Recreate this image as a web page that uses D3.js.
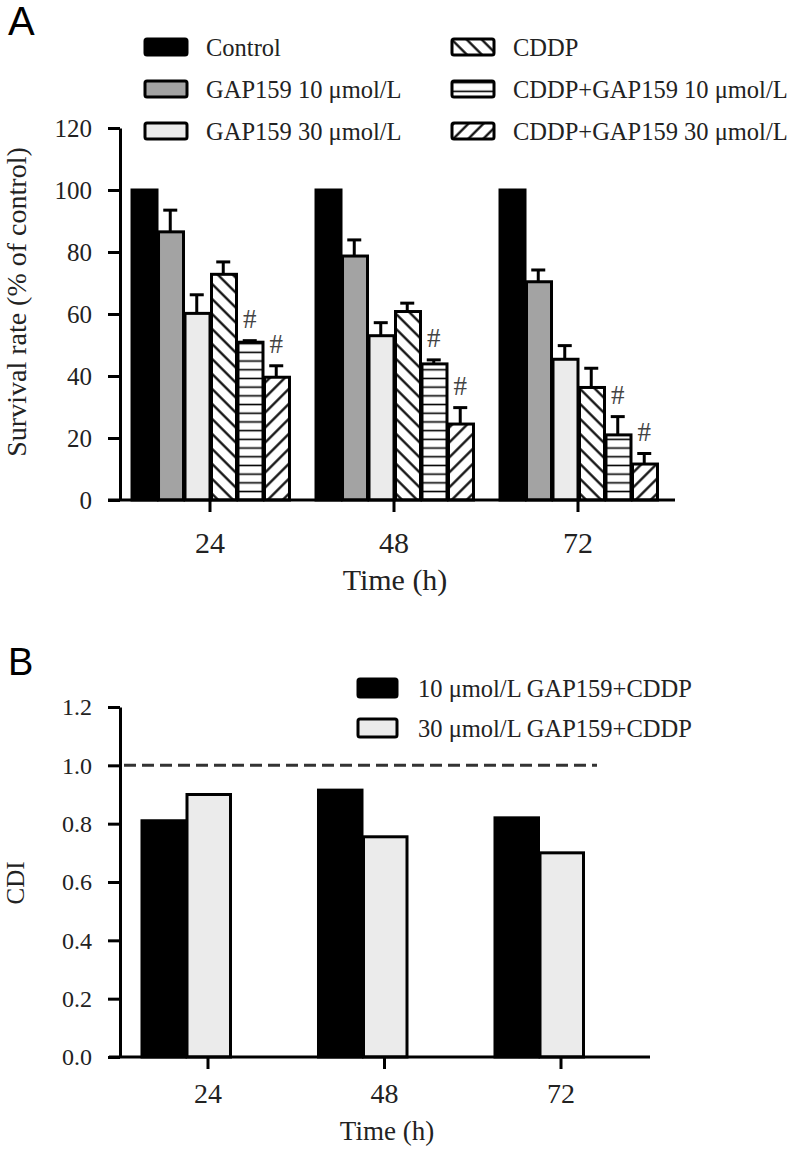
<!DOCTYPE html>
<html>
<head>
<meta charset="utf-8">
<script src="https://cdn.jsdelivr.net/npm/d3@7"></script>
<style>
  body { margin: 0; background: #fff; }
  svg { display: block; font-family: "Liberation Serif", "Times New Roman", serif; }
  svg text { font-family: "Liberation Serif", "Times New Roman", serif !important; fill: #222; }
  svg text.panel-letter { font-family: "Liberation Sans", Arial, sans-serif !important; fill: #000; }
</style>
</head>
<body>
<div id="chart"></div>
<script>
// ---- data, panel A (survival rate, % of control) ----
const timePoints = ["24", "48", "72"];
const seriesA = ["Control", "GAP159 10 μmol/L", "GAP159 30 μmol/L",
                 "CDDP", "CDDP+GAP159 10 μmol/L", "CDDP+GAP159 30 μmol/L"];
const control    = [100, 100, 100];
const gap10      = [86.5, 78.7, 70.4];
const gap30      = [60.2, 53.0, 45.4];
const cddp       = [72.8, 60.8, 36.3];
const cddpGap10  = [50.9, 43.9, 21.0];
const cddpGap30  = [39.6, 24.5, 11.6];
const errControl   = [0, 0, 0];
const errGap10     = [7.0, 5.2, 3.8];
const errGap30     = [6.0, 4.2, 4.4];
const errCddp      = [4.0, 2.7, 6.2];
const errCddpGap10 = [0.5, 1.3, 5.9];
const errCddpGap30 = [3.7, 5.3, 3.4];
const significant  = [false, false, false, false, true, true];
const ticksA = [0, 20, 40, 60, 80, 100, 120];

// ---- data, panel B (CDI) ----
const seriesB = ["10 μmol/L GAP159+CDDP", "30 μmol/L GAP159+CDDP"];
const cdi10 = [0.81, 0.915, 0.82];
const cdi30 = [0.90, 0.755, 0.70];
const ticksB = [0, 0.2, 0.4, 0.6, 0.8, 1.0, 1.2];
const cdiRef = 1.0;

const valuesA = [control, gap10, gap30, cddp, cddpGap10, cddpGap30];
const errorsA = [errControl, errGap10, errGap30, errCddp, errCddpGap10, errCddpGap30];
const valuesB = [cdi10, cdi30];

const W = 795, H = 1150;
const svg = d3.select("#chart").append("svg").attr("width", W).attr("height", H);

// hatch patterns
const defs = svg.append("defs");
function hatch(id, angle, gap, sw) {
    const p = defs.append("pattern").attr("id", id)
        .attr("patternUnits", "userSpaceOnUse")
        .attr("width", gap).attr("height", gap)
        .attr("patternTransform", `rotate(${angle})`);
    p.append("rect").attr("width", gap).attr("height", gap).attr("fill", "#fff");
    p.append("line").attr("x1", -1).attr("x2", gap + 1)
        .attr("y1", gap / 2).attr("y2", gap / 2)
        .attr("stroke", "#000").attr("stroke-width", sw);
}
hatch("back", 45, 10.6, 2.2);
hatch("horiz", 0, 8.7, 1.6);
hatch("fwd", -45, 10.6, 2.2);

const fillsA = ["#000", "#a3a3a3", "#ebebeb", "url(#back)", "url(#horiz)", "url(#fwd)"];
const fillsB = ["#000", "#ebebeb"];

// ================= Panel A =================
const xA = d3.scaleBand().domain(timePoints).range([118, 670])
    .paddingInner(0.136).paddingOuter(0.068);
const subA = d3.scaleBand().domain(d3.range(seriesA.length)).range([0, xA.bandwidth()]);
const yA = d3.scaleLinear().domain([0, 120]).range([500, 128]);

svg.append("text").attr("class", "panel-letter").attr("x", 8).attr("y", 35)
    .attr("font-size", 40).text("A");

const gA = svg.append("g");
timePoints.forEach((t, i) => {
    const g = gA.append("g").attr("transform", `translate(${xA(t)},0)`);
    seriesA.forEach((s, k) => {
        const v = valuesA[k][i], e = errorsA[k][i];
        const bx = subA(k), bw = subA.bandwidth();
        if (e > 0) {
            g.append("line").attr("x1", bx + bw / 2).attr("x2", bx + bw / 2)
                .attr("y1", yA(v)).attr("y2", yA(v + e))
                .attr("stroke", "#000").attr("stroke-width", 3);
            g.append("line").attr("x1", bx + bw / 2 - 7).attr("x2", bx + bw / 2 + 7)
                .attr("y1", yA(v + e)).attr("y2", yA(v + e))
                .attr("stroke", "#000").attr("stroke-width", 3);
        }
        g.append("rect").attr("x", bx + 1.5).attr("y", yA(v))
            .attr("width", bw - 1.5).attr("height", yA(0) - yA(v))
            .attr("fill", fillsA[k]).attr("stroke", "#000").attr("stroke-width", 3);
        if (significant[k]) {
            g.append("text").attr("x", bx + bw / 2).attr("y", yA(v + e) - 13)
                .attr("text-anchor", "middle").attr("font-size", 27)
                .style("fill", "#444").text("#");
        }
    });
});

// axes A
const axA = svg.append("g").attr("transform", "translate(120,0)")
    .call(d3.axisLeft(yA).tickValues(ticksA).tickSize(12).tickSizeOuter(0).tickPadding(16));
axA.selectAll("text").attr("font-size", 25);
axA.selectAll("line,path").attr("stroke", "#000").attr("stroke-width", 3);

const axXA = svg.append("g").attr("transform", "translate(0,500)")
    .call(d3.axisBottom(xA).tickSize(12).tickSizeOuter(0).tickPadding(20));
axXA.select(".domain").remove();
axXA.selectAll("text").attr("font-size", 30);
axXA.selectAll("line").attr("stroke", "#000").attr("stroke-width", 3);
svg.append("line").attr("x1", 108).attr("x2", 675).attr("y1", yA(0)).attr("y2", yA(0))
    .attr("stroke", "#000").attr("stroke-width", 3);

svg.append("text").attr("x", 395).attr("y", 590).attr("text-anchor", "middle")
    .attr("font-size", 30).text("Time (h)");
svg.append("text").attr("transform", "translate(26,302) rotate(-90)")
    .attr("text-anchor", "middle").attr("font-size", 28).text("Survival rate (% of control)");

// legend A
const legA = svg.append("g");
seriesA.forEach((s, k) => {
    const col = Math.floor(k / 3), row = k % 3;
    const lx = col === 0 ? 145 : 452, cy = 47 + row * 42;
    legA.append("rect").attr("x", lx).attr("y", cy - 8).attr("width", 42).attr("height", 16)
        .attr("rx", 2).attr("fill", fillsA[k]).attr("stroke", "#000").attr("stroke-width", 3);
    legA.append("text").attr("x", lx + 61).attr("y", cy + 9).attr("font-size", 24.5).text(s);
});

// ================= Panel B =================
const xB = d3.scaleBand().domain(timePoints).range([119.75, 649.25])
    .paddingInner(0.235).paddingOuter(0.1175);
// three slots per group, only the first two carry bars
const subB = d3.scaleBand().domain(d3.range(3)).range([0, xB.bandwidth()]);
const yB = d3.scaleLinear().domain([0, 1.2]).range([1057, 707]);

svg.append("text").attr("class", "panel-letter").attr("x", 8).attr("y", 675)
    .attr("font-size", 38).text("B");

const gB = svg.append("g");
timePoints.forEach((t, i) => {
    seriesB.forEach((s, k) => {
        const v = valuesB[k][i];
        gB.append("rect").attr("x", xB(t) + subB(k) + 1.5).attr("y", yB(v))
            .attr("width", subB.bandwidth() - 1.5).attr("height", yB(0) - yB(v))
            .attr("fill", fillsB[k]).attr("stroke", "#000").attr("stroke-width", 3);
    });
});

svg.append("line").attr("x1", 124).attr("x2", 597)
    .attr("y1", yB(cdiRef)).attr("y2", yB(cdiRef))
    .attr("stroke", "#333").attr("stroke-width", 3).attr("stroke-dasharray", "12,6");

const axB = svg.append("g").attr("transform", "translate(120,0)")
    .call(d3.axisLeft(yB).tickValues(ticksB).tickFormat(d3.format(".1f"))
        .tickSize(12).tickSizeOuter(0).tickPadding(16));
axB.selectAll("text").attr("font-size", 24);
axB.selectAll("line,path").attr("stroke", "#000").attr("stroke-width", 3);

const axXB = svg.append("g").attr("transform", "translate(0,1057)")
    .call(d3.axisBottom(xB).tickSize(12).tickSizeOuter(0).tickPadding(14));
axXB.select(".domain").remove();
axXB.selectAll("text").attr("font-size", 28);
axXB.selectAll("line").attr("stroke", "#000").attr("stroke-width", 3);
svg.append("line").attr("x1", 109).attr("x2", 650).attr("y1", yB(0)).attr("y2", yB(0))
    .attr("stroke", "#000").attr("stroke-width", 3);

svg.append("text").attr("x", 387).attr("y", 1140).attr("text-anchor", "middle")
    .attr("font-size", 27).text("Time (h)");
svg.append("text").attr("transform", "translate(24,883) rotate(-90)")
    .attr("text-anchor", "middle").attr("font-size", 25).text("CDI");

// legend B
seriesB.forEach((s, k) => {
    const cy = 688 + k * 40;
    svg.append("rect").attr("x", 358).attr("y", cy - 9).attr("width", 39).attr("height", 18)
        .attr("rx", 2).attr("fill", fillsB[k]).attr("stroke", "#000").attr("stroke-width", 3);
    svg.append("text").attr("x", 418).attr("y", cy + 9).attr("font-size", 24.5).text(s);
});
</script>
</body>
</html>
